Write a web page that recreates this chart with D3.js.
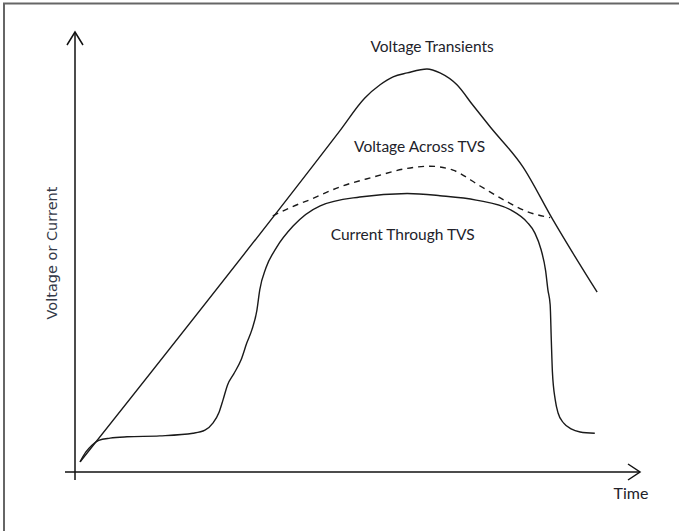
<!DOCTYPE html>
<html>
<head>
<meta charset="utf-8">
<script src="https://cdn.jsdelivr.net/npm/d3@7"></script>
<style>
  body { margin: 0; background: #fff; }
  svg { display: block; }
  text { font-family: Lato, "Open Sans", sans-serif; fill: #22222a; }
</style>
</head>
<body>
<svg id="chart" width="679" height="531"></svg>
<script>
// curves, time 0..100 vs value 0..100
var transientT = [0.9, 46.9, 51.3, 54.0, 56.3, 58.8, 62.3, 64.6, 67.6, 70.4, 73.5, 79.3, 84.6, 88.1, 92.4]
var transientV = [2.3, 77.6, 85.0, 88.0, 89.8, 90.7, 91.6, 90.7, 88.0, 83.4, 78.4, 69.3, 57.3, 49.8, 40.9]

var clampT = [35.0, 38.1, 41.6, 46.9, 52.7, 58.8, 62.8, 66.9, 71.7, 76.5, 80.0, 84.1]
var clampV = [58.2, 60.1, 61.9, 64.8, 67.0, 69.0, 69.5, 68.6, 65.0, 61.4, 59.2, 57.8]

var currentT = [0.9, 1.9, 3.0, 4.2, 6.2, 9.2, 15.0, 20.9, 23.0, 24.4, 25.5, 26.2, 27.0, 28.1, 29.4, 30.4,
  31.3, 32.2, 32.7, 33.8, 35.6, 38.6, 43.4, 50.4, 58.8, 64.6, 71.0, 77.2, 80.0, 81.4, 82.5, 83.3,
  83.7, 84.1, 84.3, 84.5, 85.0, 85.5, 86.5, 87.8, 89.4, 92.0]
var currentV = [2.3, 4.5, 6.1, 7.2, 7.7, 8.0, 8.2, 8.8, 9.5, 11.1, 13.6, 16.4, 19.8, 22.3, 25.5, 29.3,
  32.3, 36.8, 41.4, 46.4, 50.9, 55.9, 60.5, 62.5, 63.3, 62.8, 61.8, 59.5, 56.8, 54.3, 50.5, 45.7,
  41.4, 38.0, 30.0, 22.7, 16.4, 13.4, 11.1, 9.8, 9.1, 8.8]

var curveLabels = ['Voltage Transients', 'Voltage Across TVS', 'Current Through TVS']
var labelT = [63.2, 61.0, 58.0]
var labelV = [95.5, 72.8, 52.7]
var xTitle = 'Time'
var yTitle = 'Voltage or Current'

var svg = d3.select('#chart')

var x = d3.scaleLinear().domain([0, 100]).range([75, 640])
var y = d3.scaleLinear().domain([0, 100]).range([472, 32])

// page frame (top + left edge only)
svg.append('path')
  .attr('d', 'M4 531 V3.5 H679')
  .attr('fill', 'none')
  .attr('stroke', '#666')
  .attr('stroke-width', 2)

// axes with open arrow heads
var axisG = svg.append('g').attr('stroke', '#111').attr('fill', 'none').attr('stroke-width', 1.5)
axisG.append('path').attr('d', `M${x(0)} ${y(0) + 8} V${y(100)}`)
axisG.append('path').attr('d', `M${x(0) - 8} ${y(100) + 13} L${x(0)} ${y(100)} L${x(0) + 8} ${y(100) + 13}`)
axisG.append('path').attr('d', `M${x(0) - 10} ${y(0)} H${x(100)}`)
axisG.append('path').attr('d', `M${x(100) - 12} ${y(0) - 8} L${x(100)} ${y(0)} L${x(100) - 12} ${y(0) + 8}`)

var line = d3.line()
  .x(d => x(d[0]))
  .y(d => y(d[1]))
  .curve(d3.curveMonotoneX)

var series = [
  {t: transientT, v: transientV, dash: null},
  {t: clampT, v: clampV, dash: '6,5'},
  {t: currentT, v: currentV, dash: null},
]

svg.append('g').selectAll('path')
  .data(series)
  .join('path')
  .attr('d', d => line(d.t.map((t, i) => [t, d.v[i]])))
  .attr('fill', 'none')
  .attr('stroke', '#1a1a1a')
  .attr('stroke-width', 1.4)
  .attr('stroke-dasharray', d => d.dash)

svg.append('g').selectAll('text')
  .data(curveLabels)
  .join('text')
  .attr('x', (d, i) => x(labelT[i]))
  .attr('y', (d, i) => y(labelV[i]))
  .attr('text-anchor', 'middle')
  .style('font-size', '15.5px')
  .text(d => d)

svg.append('text')
  .attr('x', 631)
  .attr('y', 499)
  .attr('text-anchor', 'middle')
  .style('font-size', '16px')
  .text(xTitle)

svg.append('text')
  .attr('transform', 'translate(57,253) rotate(-90)')
  .attr('text-anchor', 'middle')
  .style('font-family', '"DejaVu Sans", Verdana, sans-serif')
  .style('font-size', '14.5px')
  .style('fill', '#343a48')
  .text(yTitle)
</script>
</body>
</html>
